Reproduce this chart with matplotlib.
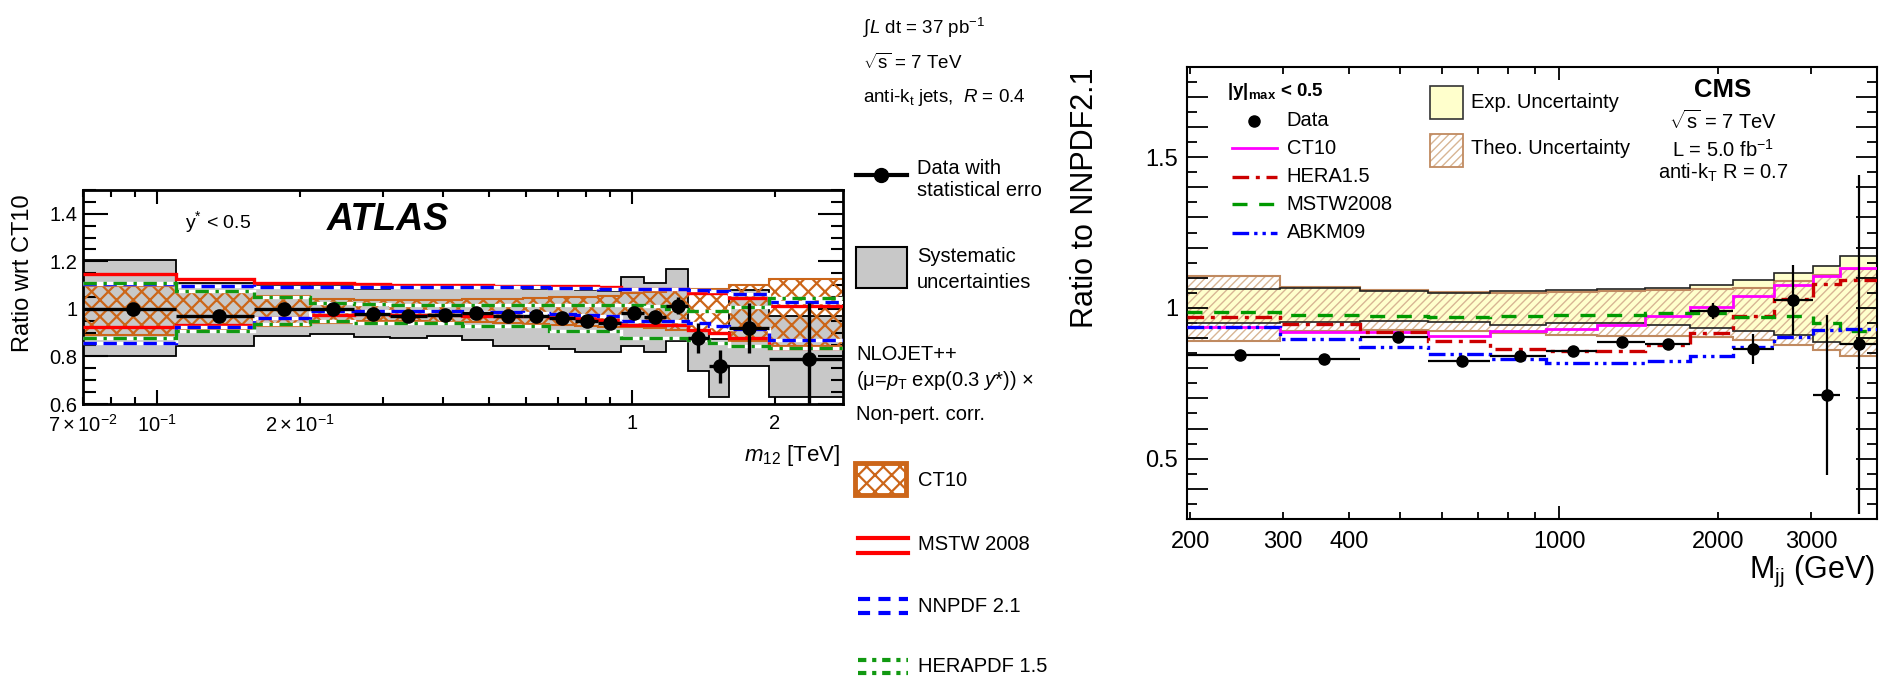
import numpy as np
import matplotlib
matplotlib.use('Agg')
import matplotlib.pyplot as plt
from matplotlib.ticker import MultipleLocator, FuncFormatter
from matplotlib.patches import Rectangle

plt.rcParams['font.family'] = ['Liberation Sans', 'DejaVu Sans']
plt.rcParams['mathtext.fontset'] = 'custom'
plt.rcParams['mathtext.rm'] = 'Liberation Sans'
plt.rcParams['mathtext.it'] = 'Liberation Sans:italic'
plt.rcParams['mathtext.bf'] = 'Liberation Sans:bold'
plt.rcParams['hatch.linewidth'] = 1.5

# ---------------- ATLAS (left) data ----------------
atlas_edges = [0.07, 0.11, 0.16, 0.21, 0.26, 0.31, 0.37, 0.44, 0.51, 0.59, 0.67,
               0.76, 0.85, 0.95, 1.06, 1.18, 1.31, 1.45, 1.60, 1.94, 2.78]
atlas_x = [0.089, 0.135, 0.185, 0.235, 0.285, 0.338, 0.404, 0.47, 0.548, 0.628,
           0.713, 0.804, 0.90, 1.01, 1.12, 1.25, 1.38, 1.53, 1.76, 2.36]
atlas_y = [1.00, 0.97, 1.00, 1.00, 0.98, 0.97, 0.975, 0.983, 0.97, 0.97,
           0.962, 0.948, 0.94, 0.983, 0.965, 1.014, 0.878, 0.758, 0.92, 0.789]
atlas_stat = [0.004, 0.004, 0.004, 0.005, 0.005, 0.005, 0.006, 0.007, 0.008, 0.009,
              0.010, 0.012, 0.014, 0.016, 0.020, 0.035, 0.062, 0.070, 0.105, 0.237]
sys_hi = [1.206, 1.11, 1.10, 1.095, 1.082, 1.096, 1.096, 1.094, 1.089, 1.085,
          1.082, 1.078, 1.075, 1.134, 1.11, 1.166, 0.906, 0.873, 1.08, 0.969]
sys_lo = [0.803, 0.846, 0.884, 0.895, 0.88, 0.877, 0.884, 0.87, 0.842, 0.842,
          0.831, 0.817, 0.817, 0.842, 0.817, 0.863, 0.737, 0.631, 0.76, 0.631]
ct10_hi = [1.096, 1.070, 1.054, 1.042, 1.037, 1.037, 1.038, 1.040, 1.042, 1.045,
           1.048, 1.050, 1.055, 1.068, 1.072, 1.080, 1.082, 1.085, 1.099, 1.127]
ct10_lo = [0.891, 0.913, 0.927, 0.941, 0.948, 0.948, 0.946, 0.944, 0.940, 0.936,
           0.932, 0.928, 0.924, 0.925, 0.918, 0.910, 0.906, 0.900, 0.864, 0.842]
mstw_hi = [1.145, 1.124, 1.110, 1.107, 1.103, 1.100, 1.100, 1.100, 1.098, 1.097,
           1.096, 1.095, 1.090, 1.085, 1.085, 1.082, 1.068, 1.068, 1.047, 1.011]
mstw_lo = [0.924, 0.934, 0.962, 0.976, 0.978, 0.975, 0.975, 0.972, 0.970, 0.968,
           0.965, 0.960, 0.955, 0.934, 0.934, 0.934, 0.913, 0.899, 0.878, 0.836]
nnpdf_hi = [1.103, 1.096, 1.093, 1.093, 1.093, 1.093, 1.093, 1.092, 1.090, 1.090,
            1.088, 1.087, 1.085, 1.082, 1.082, 1.082, 1.080, 1.075, 1.061, 1.028]
nnpdf_lo = [0.856, 0.922, 0.962, 0.990, 0.990, 0.990, 0.990, 0.988, 0.985, 0.982,
            0.978, 0.975, 0.970, 0.948, 0.948, 0.948, 0.940, 0.930, 0.916, 0.871]
hera_hi = [1.110, 1.075, 1.050, 1.023, 1.020, 1.018, 1.018, 1.018, 1.018, 1.017,
           1.017, 1.016, 1.015, 1.015, 1.012, 1.000, 0.990, 0.990, 1.010, 1.047]
hera_lo = [0.877, 0.906, 0.938, 0.948, 0.940, 0.940, 0.940, 0.927, 0.927, 0.927,
           0.906, 0.906, 0.906, 0.877, 0.877, 0.877, 0.871, 0.856, 0.843, 0.836]

atlas_xticks_major = [0.1, 1]
atlas_xlabels_major = [r'$10^{-1}$', '1']
atlas_xticks_minor = [0.07, 0.08, 0.09, 0.2, 0.3, 0.4, 0.5, 0.6, 0.7, 0.8, 0.9, 2]
atlas_xlabels_minor = [r'$7\times10^{-2}$', '', '', r'$2\times10^{-1}$', '', '', '', '', '', '', '', '2']
atlas_yticks = [0.6, 0.8, 1.0, 1.2, 1.4]
atlas_ylabels = ['0.6', '0.8', '1', '1.2', '1.4']

# ---------------- CMS (right) data ----------------
cms_edges = [197, 296, 419, 565, 740, 944, 1181, 1455, 1770, 2132, 2546, 3019, 3400, 4000]
cms_x = [248, 359, 494, 655, 843, 1063, 1316, 1608, 1950, 2329, 2774, 3209, 3700]
cms_y = [0.845, 0.830, 0.903, 0.824, 0.839, 0.856, 0.886, 0.882, 0.989, 0.864, 1.025, 0.712, 0.880]
cms_err = [0.012, 0.015, 0.012, 0.012, 0.012, 0.012, 0.012, 0.014, 0.027, 0.050, 0.116, 0.266, 0.562]
exp_hi = [1.063, 1.066, 1.055, 1.050, 1.055, 1.058, 1.063, 1.066, 1.077, 1.091, 1.116, 1.140, 1.171]
exp_lo = [0.950, 0.952, 0.956, 0.953, 0.942, 0.950, 0.950, 0.942, 0.934, 0.922, 0.911, 0.886, 0.881]
theo_hi = [1.105, 1.070, 1.060, 1.052, 1.050, 1.052, 1.055, 1.060, 1.064, 1.066, 1.088, 1.110, 1.130]
theo_lo = [0.889, 0.922, 0.926, 0.925, 0.917, 0.911, 0.908, 0.906, 0.904, 0.893, 0.878, 0.862, 0.839]
cms_ct10 = [0.937, 0.920, 0.921, 0.908, 0.922, 0.930, 0.945, 0.972, 1.003, 1.039, 1.077, 1.105, 1.133]
cms_hera = [0.969, 0.947, 0.919, 0.891, 0.864, 0.856, 0.856, 0.878, 0.917, 0.972, 1.030, 1.080, 1.091]
cms_mstw = [0.985, 0.978, 0.972, 0.970, 0.972, 0.975, 0.978, 0.983, 0.983, 0.970, 0.972, 0.950, 0.922]
cms_abkm = [0.937, 0.898, 0.871, 0.847, 0.831, 0.817, 0.817, 0.823, 0.842, 0.871, 0.904, 0.928, 0.930]

cms_xticks_major = [1000]
cms_xlabels_major = ['1000']
cms_xticks_minor = [200, 300, 400, 500, 600, 700, 800, 900, 2000, 3000]
cms_xlabels_minor = ['200', '300', '400', '', '', '', '', '', '2000', '3000']

# colours
GREY = '#c8c8c8'
ORANGE = '#cc6619'
YELLOW = '#ffffcc'
BROWN = '#c08a60'
LBROWN = '#d8b594'


def thin_hatch(artist, lw):
    if hasattr(artist, 'set_hatch_linewidth'):
        try:
            artist.set_hatch_linewidth(lw)
        except Exception:
            pass


W, H = 1886, 678
fig = plt.figure(figsize=(W / 100, H / 100), dpi=100)

# ================= LEFT PANEL =================
axL = fig.add_axes([83 / W, 1 - 404 / H, 760 / W, 214 / H])
axL.set_xscale('log')
e = np.array(atlas_edges)
axL.stairs(sys_hi, e, baseline=sys_lo, fill=True, color=GREY, lw=0, zorder=1)
axL.stairs(sys_hi, e, baseline=None, color='k', lw=1.3, zorder=1.2)
axL.stairs(sys_lo, e, baseline=None, color='k', lw=1.3, zorder=1.2)
hb = axL.stairs(ct10_hi, e, baseline=ct10_lo, fill=True, facecolor='none',
                edgecolor=ORANGE, hatch='xx', lw=1.5, zorder=2)
thin_hatch(hb, 1.6)
for arr in (mstw_hi, mstw_lo):
    axL.stairs(arr, e, baseline=None, color='#ff0000', lw=2.4, zorder=3)
for arr in (nnpdf_hi, nnpdf_lo):
    axL.stairs(arr, e, baseline=None, color='white', lw=2.4, zorder=3.1)
    axL.stairs(arr, e, baseline=None, color='#0000ff', lw=2.4, ls=(0, (4, 2)), zorder=3.2)
for arr in (hera_hi, hera_lo):
    axL.stairs(arr, e, baseline=None, color='white', lw=2.4, zorder=3.3)
    axL.stairs(arr, e, baseline=None, color='#119911', lw=2.4, ls=(0, (4, 2, 1, 2)), zorder=3.4)
ax_ = np.array(atlas_x)
axL.errorbar(atlas_x, atlas_y, yerr=atlas_stat, xerr=[ax_ - e[:-1], e[1:] - ax_],
             fmt='o', color='k', ms=9.5, lw=2.4, capsize=0, zorder=5)
axL.set_xlim(0.07, 2.78)
axL.set_ylim(0.6, 1.5)
axL.set_yticks(atlas_yticks, labels=atlas_ylabels)
axL.yaxis.set_minor_locator(MultipleLocator(0.05))
axL.set_xticks(atlas_xticks_major, labels=atlas_xlabels_major)
axL.set_xticks(atlas_xticks_minor, labels=atlas_xlabels_minor, minor=True)
axL.tick_params(which='both', direction='in', top=True, right=True, labelsize=14.5, width=1.5)
axL.tick_params(axis='y', which='major', length=18, pad=4)
axL.tick_params(axis='y', which='minor', length=9)
axL.tick_params(axis='x', which='major', length=10, pad=7)
axL.tick_params(axis='x', which='minor', length=5, pad=7)
for s in axL.spines.values():
    s.set_linewidth(2)
axL.set_ylabel('Ratio wrt CT10', fontsize=17)
axL.yaxis.set_label_coords(-0.064, 0.61)
axL.set_xlabel(r'$m_{12}$ [TeV]', fontsize=16, loc='right')
axL.xaxis.set_label_coords(0.996, -0.18)

# ================= RIGHT PANEL =================
axR = fig.add_axes([1186.7 / W, 1 - 519 / H, 690.6 / W, 452.3 / H])
axR.set_xscale('log')
c = np.array(cms_edges)
axR.stairs(exp_hi, c, baseline=exp_lo, fill=True, color=YELLOW, lw=0, zorder=1)
th = axR.stairs(theo_hi, c, baseline=theo_lo, fill=True, facecolor='none',
                edgecolor=LBROWN, hatch='////', lw=0, zorder=1.5)
thin_hatch(th, 1.0)
axR.stairs(theo_hi, c, baseline=None, color=BROWN, lw=1.5, zorder=1.6)
axR.stairs(theo_lo, c, baseline=None, color=BROWN, lw=1.5, zorder=1.6)
axR.stairs(exp_hi, c, baseline=None, color='#222222', lw=1.2, zorder=1.7)
axR.stairs(exp_lo, c, baseline=None, color='#222222', lw=1.2, zorder=1.7)
axR.stairs(cms_ct10, c, baseline=None, color='#ff00ff', lw=2.0, zorder=3)
axR.stairs(cms_hera, c, baseline=None, color='#cc0000', lw=2.4, ls=(0, (5, 2, 1.2, 2)), zorder=3)
axR.stairs(cms_mstw, c, baseline=None, color='#009900', lw=2.4, ls=(0, (4.5, 3.5)), zorder=3)
axR.stairs(cms_abkm, c, baseline=None, color='#0000ff', lw=2.4, ls=(0, (5, 1.5, 1, 1.5, 1, 1.5)), zorder=3)
cx = np.array(cms_x)
axR.errorbar(cms_x, cms_y, yerr=cms_err, xerr=[cx - c[:-1], c[1:] - cx],
             fmt='o', color='k', ms=8, lw=1.6, capsize=0, zorder=5)
axR.set_xlim(197, 4000)
axR.set_ylim(0.3, 1.8)
axR.yaxis.set_major_locator(MultipleLocator(0.1))
axR.yaxis.set_minor_locator(MultipleLocator(0.05))


def yfmt(v, pos):
    if abs(v * 2 - round(v * 2)) < 1e-6:
        return '%g' % round(v, 1)
    return ''


axR.yaxis.set_major_formatter(FuncFormatter(yfmt))
axR.set_xticks(cms_xticks_major, labels=cms_xlabels_major)
axR.set_xticks(cms_xticks_minor, labels=cms_xlabels_minor, minor=True)
axR.tick_params(which='both', direction='in', top=True, right=True, labelsize=17, width=1.3)
axR.tick_params(axis='y', which='major', length=15, pad=6)
axR.tick_params(axis='y', which='minor', length=7.5)
axR.tick_params(axis='x', which='major', length=9.5, pad=9)
axR.tick_params(axis='x', which='minor', length=5, pad=9)
for s in axR.spines.values():
    s.set_linewidth(1.5)
axR.set_ylabel('Ratio to NNPDF2.1', fontsize=22)
axR.yaxis.set_label_coords(-0.126, 0.711)
axR.set_xlabel(r'M$_{\mathrm{jj}}$ (GeV)', fontsize=22, loc='right')
axR.xaxis.set_label_coords(0.997, -0.076)

# ================= overlay (legends & labels, pixel coords) =================
lax = fig.add_axes([0, 0, 1, 1], zorder=10)
lax.set_xlim(0, W)
lax.set_ylim(H, 0)
lax.axis('off')

# left panel annotations
lax.text(185, 222, r'y$^{*}$ < 0.5', fontsize=14, va='center')
lax.text(327, 220, 'ATLAS', fontsize=27, fontweight='bold', fontstyle='italic', va='center')

# left legend column
top_texts = ['\u222b$L$ dt = 37 pb$^{-1}$', r'$\sqrt{\mathrm{s}}$ = 7 TeV', r'anti-k$_{\mathrm{t}}$ jets,  $R$ = 0.4']
for i, t in enumerate(top_texts):
    lax.text(863, 28 + 35 * i, t, fontsize=13.5, va='center')
lax.plot([856, 907], [175, 175], color='k', lw=3)
lax.plot([881], [175], 'o', color='k', ms=10)
lax.text(917, 168, 'Data with', fontsize=14.5, va='center')
lax.text(917, 190, 'statistical erro', fontsize=14.5, va='center')
lax.add_patch(Rectangle((856, 247), 51, 41, facecolor=GREY, edgecolor='k', lw=1.5))
lax.text(917, 257, 'Systematic', fontsize=14.5, va='center')
lax.text(917, 282, 'uncertainties', fontsize=14.5, va='center')
lax.text(856, 355, 'NLOJET++', fontsize=14.5, va='center')
lax.text(856, 381, r'(μ=$p_{\mathrm{T}}$ exp(0.3 $y$*)) ×', fontsize=14.5, va='center')
lax.text(856, 415, 'Non-pert. corr.', fontsize=14.5, va='center')
lp = lax.add_patch(Rectangle((855, 463), 51, 32, facecolor='white', edgecolor=ORANGE, lw=3.5, hatch='xx'))
thin_hatch(lp, 1.6)
lax.text(918, 480, 'CT10', fontsize=14.5, va='center')
for yy in (538, 553):
    lax.plot([858, 908], [yy, yy], color='#ff0000', lw=3)
lax.text(918, 545, 'MSTW 2008', fontsize=14.5, va='center')
for yy in (599, 613):
    lax.plot([858, 908], [yy, yy], color='#0000ff', lw=3, ls=(0, (2.9, 2.0)))
lax.text(918, 606, 'NNPDF 2.1', fontsize=14.5, va='center')
for yy in (660, 673):
    lax.plot([858, 908], [yy, yy], color='#119911', lw=3, ls=(0, (2.0, 1.4, 1.0, 1.4)))
lax.text(918, 666, 'HERAPDF 1.5', fontsize=14.5, va='center')

# right legend
lax.text(1226.7, 92, r'|y|$_{\mathbf{max}}$ < 0.5', fontsize=13.5, fontweight='bold', va='center')
lax.plot([1254], [121], 'o', color='k', ms=8)
leg_lines = [('CT10', '#ff00ff', '-', 2.0, 148.3),
             ('HERA1.5', '#cc0000', (0, (5, 2, 1.2, 2)), 2.4, 176.7),
             ('MSTW2008', '#009900', (0, (4.5, 3.5)), 2.4, 204.3),
             ('ABKM09', '#0000ff', (0, (5, 1.5, 1, 1.5, 1, 1.5)), 2.4, 232.7)]
lax.text(1286.7, 121, 'Data', fontsize=14.5, va='center')
for lab, col, ls, lw, yy in leg_lines:
    lax.plot([1231.7, 1276.7], [yy, yy], color=col, ls=ls, lw=lw)
    lax.text(1286.7, yy, lab, fontsize=14.5, va='center')
lax.add_patch(Rectangle((1430, 86), 33.3, 33, facecolor=YELLOW, edgecolor='#333333', lw=1.2))
lax.text(1470.7, 102, 'Exp. Uncertainty', fontsize=14.5, va='center')
tp = lax.add_patch(Rectangle((1430, 133.5), 33.3, 33, facecolor='none', edgecolor=LBROWN, lw=0, hatch='////'))
thin_hatch(tp, 1.0)
lax.add_patch(Rectangle((1430, 133.5), 33.3, 33, facecolor='none', edgecolor=BROWN, lw=1.3))
lax.text(1470.7, 148.5, 'Theo. Uncertainty', fontsize=14.5, va='center')
lax.text(1723, 90, 'CMS', fontsize=18.5, fontweight='bold', ha='center', va='center')
lax.text(1723, 121, r'$\sqrt{\mathrm{s}}$ = 7 TeV', fontsize=14.5, ha='center', va='center')
lax.text(1723, 150, r'L = 5.0 fb$^{-1}$', fontsize=14.5, ha='center', va='center')
lax.text(1723, 173, r'anti-k$_{\mathrm{T}}$ R = 0.7', fontsize=14.5, ha='center', va='center')

fig.savefig('out.png', dpi=100)
